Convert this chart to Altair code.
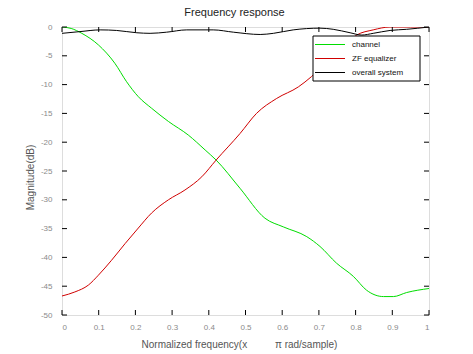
import altair as alt
import pandas as pd

# channel response (green)
channel_f = [0, 0.025, 0.054, 0.099, 0.144, 0.176, 0.208, 0.244, 0.290, 0.344, 0.390, 0.420,
             0.485, 0.553, 0.603, 0.667, 0.703, 0.748, 0.794, 0.830, 0.876, 0.903, 0.939, 1.0]
channel_db = [0, -0.25, -1.1, -3.1, -6.3, -9.5, -12.1, -14.1, -16.4, -18.75, -21.35, -23.1,
              -28.0, -33.2, -34.7, -36.4, -38.1, -41.0, -43.3, -45.7, -46.8, -46.8, -46.1, -45.4]

# ZF equalizer (red)
eq_f = [0, 0.035, 0.072, 0.099, 0.135, 0.172, 0.208, 0.244, 0.290, 0.335, 0.381, 0.420,
        0.485, 0.530, 0.585, 0.644, 0.680, 0.72, 0.76, 0.803, 0.848, 0.894, 0.95, 1.0]
eq_db = [-46.7, -46.0, -44.8, -43.1, -40.5, -37.6, -34.9, -32.3, -30.0, -28.3, -26.0, -23.1,
         -18.5, -15.0, -12.4, -10.4, -8.6, -6.2, -3.8, -1.4, -0.5, 0, 0, 0]

# overall system (black)
sys_f = [0, 0.049, 0.104, 0.149, 0.204, 0.240, 0.285, 0.340, 0.412, 0.467, 0.540, 0.576,
         0.630, 0.703, 0.739, 0.785, 0.817, 0.848, 0.894, 0.939, 1.0]
sys_db = [-1.1, -0.8, -0.5, -0.6, -1.0, -1.1, -0.9, -0.5, -0.5, -0.9, -1.3, -1.1,
          -0.5, -0.2, -0.4, -1.0, -1.4, -1.1, -0.6, -0.4, 0]

series_names = ["channel", "ZF equalizer", "overall system"]
series_colors = ["#00dd00", "#d00000", "#000000"]

x_ticks = [0, 0.1, 0.2, 0.3, 0.4, 0.5, 0.6, 0.7, 0.8, 0.9, 1.0]
y_ticks = [0, -5, -10, -15, -20, -25, -30, -35, -40, -45, -50]

W, H = 367, 288
FONT = "Liberation Sans"

rows = []
for name, fs, ds in [(series_names[0], channel_f, channel_db),
                     (series_names[1], eq_f, eq_db),
                     (series_names[2], sys_f, sys_db)]:
    for i, (f, d) in enumerate(zip(fs, ds)):
        rows.append({"series": name, "f": f, "db": d, "i": i})
df = pd.DataFrame(rows)

xscale = alt.Scale(domain=[0, 1], nice=False, zero=False)
yscale = alt.Scale(domain=[-50, 0], nice=False, zero=False)
cscale = alt.Scale(domain=series_names, range=series_colors)

x_axis = alt.Axis(values=x_ticks, ticks=False, domain=False, grid=False,
                  labelFontSize=8, labelColor="#8a8a8a", labelPadding=8,
                  labelFont=FONT, labelOverlap=False,
                  labelExpr="'' + datum.value",
                  title="Normalized frequency(x\u00a0\u00a0\u00a0\u00a0\u00a0\u00a0\u00a0\u00a0\u00a0\u00a0π rad/sample)",
                  titleFont=FONT, titleFontSize=10, titleFontWeight="normal",
                  titleColor="#555555", titleX=177, titleY=29,
                  titleBaseline="middle", titleAnchor="middle")
y_axis = alt.Axis(values=y_ticks, ticks=False, domain=False, grid=False,
                  labelFontSize=8, labelColor="#8a8a8a", labelPadding=10,
                  labelFont=FONT, labelOverlap=False,
                  labelExpr="'' + datum.value",
                  title="Magnitude(dB)", titleFont=FONT, titleFontSize=10,
                  titleFontWeight="normal", titleColor="#555555",
                  titleX=-32, titleY=150, titleAngle=-90,
                  titleBaseline="middle", titleAnchor="middle")

lines = alt.Chart(df).mark_line(strokeWidth=1, interpolate="monotone", clip=True).encode(
    x=alt.X("f:Q", scale=xscale, axis=x_axis),
    y=alt.Y("db:Q", scale=yscale, axis=y_axis),
    color=alt.Color("series:N", scale=cscale, legend=None),
    order="i:Q",
)

xt = pd.DataFrame({"v": x_ticks})
yt = pd.DataFrame({"v": y_ticks})

xb = alt.Chart(xt).mark_rule(color="black", strokeWidth=1).encode(
    x=alt.X("v:Q", scale=xscale, axis=x_axis), y=alt.value(H), y2=alt.value(H - 5))
xtop = alt.Chart(xt).mark_rule(color="black", strokeWidth=1).encode(
    x=alt.X("v:Q", scale=xscale, axis=x_axis), y=alt.value(0), y2=alt.value(5))
yl = alt.Chart(yt).mark_rule(color="black", strokeWidth=1).encode(
    y=alt.Y("v:Q", scale=yscale, axis=y_axis), x=alt.value(0), x2=alt.value(5))
yr = alt.Chart(yt).mark_rule(color="black", strokeWidth=1).encode(
    y=alt.Y("v:Q", scale=yscale, axis=y_axis), x=alt.value(W), x2=alt.value(W - 5))

# legend box (drawn as marks, on top of the curves)
leg_df = pd.DataFrame({"series": series_names})
box = alt.Chart(leg_df.head(1)).mark_rect(fill="white", stroke="black", strokeWidth=1).encode(
    x=alt.value(251), x2=alt.value(358), y=alt.value(9), y2=alt.value(54))

legend_layers = [box]
for k, name in enumerate(series_names):
    yy = 17.5 + 14 * k
    one = pd.DataFrame({"series": [name]})
    legend_layers.append(
        alt.Chart(one).mark_rule(strokeWidth=1).encode(
            x=alt.value(253), x2=alt.value(283), y=alt.value(yy),
            color=alt.Color("series:N", scale=cscale, legend=None)))
    legend_layers.append(
        alt.Chart(one).mark_text(align="left", baseline="middle", font=FONT,
                                 fontSize=8, color="#111111").encode(
            x=alt.value(290), y=alt.value(yy), text="series:N"))

chart = alt.layer(lines, xb, xtop, yl, yr, *legend_layers).properties(
    width=W, height=H,
    title=alt.TitleParams("Frequency response", font=FONT, fontSize=11,
                          fontWeight="normal", color="#222222", dx=-11, offset=5),
    autosize=alt.AutoSizeParams(type="none"),
    padding={"left": 62, "top": 27, "right": 44, "bottom": 39},
).configure_view(stroke="black", strokeWidth=1).configure(background="white")

chart.save("out.html", embed_options={"renderer": "svg", "actions": False})
